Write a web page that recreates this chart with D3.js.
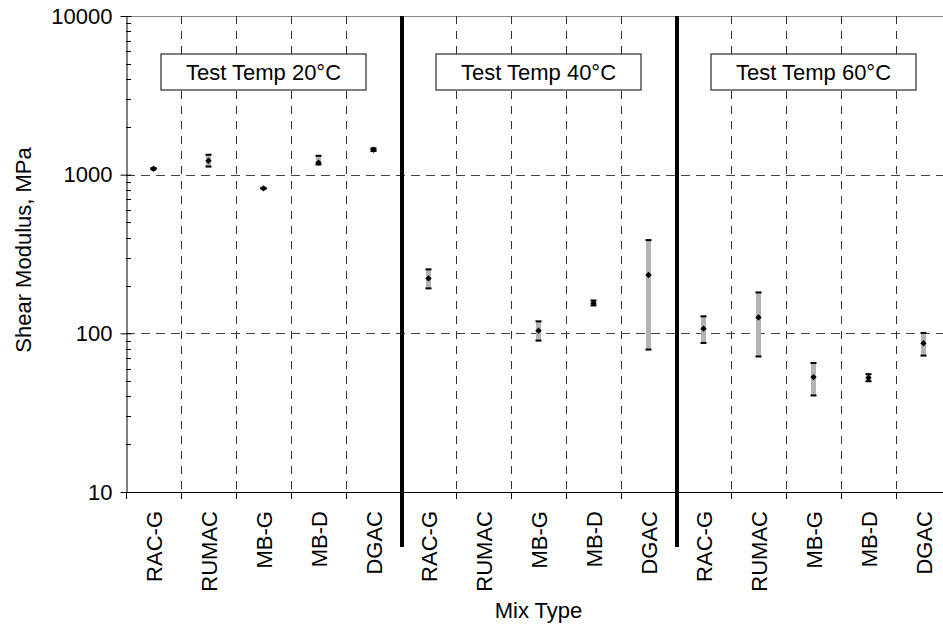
<!DOCTYPE html>
<html>
<head>
<meta charset="utf-8">
<script src="https://cdn.jsdelivr.net/npm/d3@7"></script>
<style>
  html, body { margin: 0; padding: 0; background: #fff; }
  svg { display: block; font-family: "Liberation Sans", Arial, sans-serif; }
</style>
</head>
<body>
<svg id="chart" width="943" height="632"></svg>
<script>
// ---------- DATA ----------
const mixTypes = ["RAC-G", "RUMAC", "MB-G", "MB-D", "DGAC"];
const temps = ["20", "40", "60"];
const tempLabels = ["Test Temp 20°C", "Test Temp 40°C", "Test Temp 60°C"];
// mean / low / high shear modulus (MPa), per temperature, in mixTypes order
const mean20 = [1090, 1225, 820, 1190, 1435];
const low20  = [1080, 1125, 815, 1160, 1410];
const high20 = [1100, 1335, 825, 1315, 1465];
const mean40 = [222, null, 104, 155, 233];
const low40  = [192, null, 90, 150, 79];
const high40 = [253, null, 119, 161, 387];
const mean60 = [107, 126, 53, 52.4, 86.6];
const low60  = [87, 71.5, 40.6, 49.9, 72.4];
const high60 = [128, 181, 65, 55.3, 100.6];
const yTicks = [10, 100, 1000, 10000];
const gridValues = [100, 1000];

// ---------- LAYOUT ----------
const svg = d3.select("#chart");
const pLeft = 126, pTop = 16, pBottom = 492, pRight = 951;

const keys = [];
const points = [];
const means = [mean20, mean40, mean60], lows = [low20, low40, low60], highs = [high20, high40, high60];
temps.forEach((t, ti) => {
  mixTypes.forEach((m, mi) => {
    const k = t + "|" + m;
    keys.push(k);
    if (means[ti][mi] != null) points.push({ key: k, mean: means[ti][mi], lo: lows[ti][mi], hi: highs[ti][mi] });
  });
});

const x = d3.scaleBand().domain(keys).range([pLeft, pRight]).padding(0);
const y = d3.scaleLog().domain([10, 10000]).range([pBottom, pTop]);
const bw = x.bandwidth();

// top border
svg.append("line").attr("x1", pLeft).attr("x2", pRight).attr("y1", pTop + 0.5).attr("y2", pTop + 0.5)
  .attr("stroke", "#888").attr("stroke-width", 1);

// vertical dashed gridlines at category boundaries (not section boundaries)
const boundaries = keys.slice(1).map(k => x(k));
const sectionStarts = temps.slice(1).map(t => x(t + "|" + mixTypes[0]));
boundaries.forEach((bx, i) => {
  if ((i + 1) % mixTypes.length === 0) return;
  svg.append("line").attr("x1", bx + 0.5).attr("x2", bx + 0.5).attr("y1", pTop).attr("y2", pBottom)
    .attr("stroke", "#333").attr("stroke-width", 1).attr("stroke-dasharray", "8,7");
});
// horizontal dashed gridlines
gridValues.forEach(v => {
  svg.append("line").attr("x1", pLeft).attr("x2", pRight).attr("y1", Math.round(y(v)) + 0.5).attr("y2", Math.round(y(v)) + 0.5)
    .attr("stroke", "#444").attr("stroke-width", 1).attr("stroke-dasharray", "9,6");
});

// x-axis ticks below axis at boundaries
[pLeft].concat(boundaries).forEach(bx => {
  svg.append("line").attr("x1", bx + 0.5).attr("x2", bx + 0.5).attr("y1", pBottom).attr("y2", pBottom + 7)
    .attr("stroke", "#000").attr("stroke-width", 1);
});

// y minor ticks (inside)
const minor = [];
for (let d = 10; d < 10000; d *= 10) for (let k = 2; k <= 9; k++) minor.push(d * k);
minor.forEach(v => {
  svg.append("line").attr("x1", pLeft).attr("x2", pLeft + 5).attr("y1", Math.round(y(v)) + 0.5).attr("y2", Math.round(y(v)) + 0.5)
    .attr("stroke", "#000").attr("stroke-width", 1);
});

// y axis
const yAxis = d3.axisLeft(y).tickValues(yTicks).tickFormat(d3.format("d")).tickSizeOuter(0).tickSizeInner(6).tickPadding(8);
const yg = svg.append("g").attr("transform", `translate(${pLeft + 0.5},0)`).call(yAxis);
yg.select(".domain").attr("stroke", "#000");
yg.selectAll(".tick line").attr("x2", -6).attr("x1", 5).attr("stroke", "#000");
yg.selectAll(".tick text").attr("font-size", 22).attr("fill", "#000").attr("font-family", "Liberation Sans, Arial, sans-serif");

// x axis line
svg.append("line").attr("x1", pLeft).attr("x2", pRight).attr("y1", pBottom + 0.5).attr("y2", pBottom + 0.5)
  .attr("stroke", "#000").attr("stroke-width", 1);

// thick section separators
sectionStarts.forEach(sx => {
  svg.append("line").attr("x1", sx + 1).attr("x2", sx + 1).attr("y1", pTop).attr("y2", 547)
    .attr("stroke", "#000").attr("stroke-width", 4);
});

// category labels
keys.forEach(k => {
  const cx = x(k) + bw / 2;
  svg.append("text").attr("transform", `translate(${cx + 8},511) rotate(-90)`)
    .attr("text-anchor", "end").attr("font-size", 22).attr("fill", "#000").text(k.split("|")[1]);
});

// axis titles
svg.append("text").attr("x", (pLeft + pRight) / 2).attr("y", 618).attr("text-anchor", "middle")
  .attr("font-size", 22).attr("fill", "#000").text("Mix Type");
svg.append("text").attr("transform", `translate(31,${(pTop + pBottom) / 2 - 4}) rotate(-90)`).attr("text-anchor", "middle")
  .attr("font-size", 22).attr("fill", "#000").text("Shear Modulus, MPa");

// temperature boxes
temps.forEach((t, ti) => {
  const x0 = x(t + "|" + mixTypes[0]);
  const x1 = x(t + "|" + mixTypes[mixTypes.length - 1]) + bw;
  const cx = (x0 + x1) / 2;
  svg.append("rect").attr("x", cx - 102.5).attr("y", 54).attr("width", 205).attr("height", 36)
    .attr("fill", "#fff").attr("stroke", "#000").attr("stroke-width", 1);
  svg.append("text").attr("x", cx).attr("y", 80).attr("text-anchor", "middle")
    .attr("font-size", 22).attr("fill", "#000").text(tempLabels[ti]);
});

// error bars and markers
const g = svg.append("g");
points.forEach(p => {
  const cx = x(p.key) + bw / 2;
  g.append("rect").attr("x", cx - 2.5).attr("width", 5).attr("y", y(p.hi)).attr("height", y(p.lo) - y(p.hi))
    .attr("fill", "#b4b4b4");
  [p.lo, p.hi].forEach(v => {
    g.append("line").attr("x1", cx - 3).attr("x2", cx + 3).attr("y1", y(v)).attr("y2", y(v))
      .attr("stroke", "#000").attr("stroke-width", 2);
  });
  g.append("path").attr("d", d3.symbol(d3.symbolDiamond2, 26)()).attr("transform", `translate(${cx},${y(p.mean)})`)
    .attr("fill", "#000");
});
</script>
</body>
</html>
